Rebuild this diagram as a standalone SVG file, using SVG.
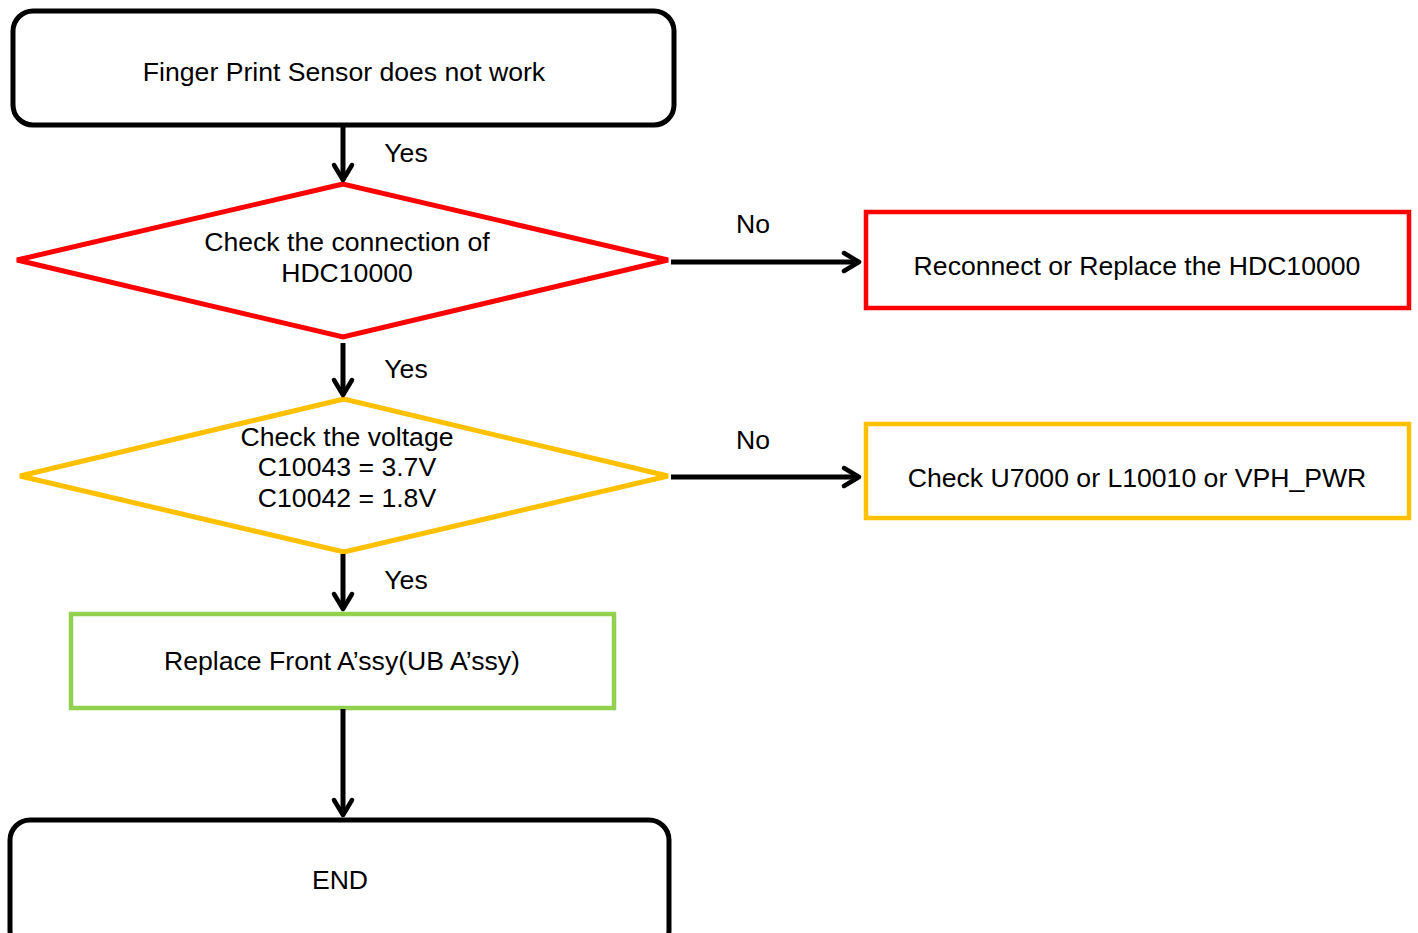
<svg xmlns="http://www.w3.org/2000/svg" width="1418" height="933" viewBox="0 0 1418 933">
<style>
text{font-family:"Liberation Sans",Arial,sans-serif;font-size:25px;fill:#000;text-anchor:middle}
.term{fill:#fff;stroke:#000;stroke-width:5}
.line{stroke:#000;stroke-width:5;fill:none}
.head{stroke:#000;stroke-width:4.5;fill:none;stroke-linecap:round;stroke-linejoin:round}
</style>
<rect width="1418" height="933" fill="#fff"/>
<g id="start"><rect class="term" x="13" y="11" width="661" height="114" rx="20"/><text x="344" y="81" transform="translate(344 0) scale(1.065 1) translate(-344 0)">Finger Print Sensor does not work</text></g>
<g id="d1"><polygon points="343,184 17,260 343,337 668,260" fill="#fff" stroke="#FF0000" stroke-width="5"/><text transform="translate(347 0) scale(1.065 1) translate(-347 0)"><tspan x="347" y="251">Check the connection of</tspan><tspan x="347" y="282">HDC10000</tspan></text></g>
<g id="r1"><rect x="866" y="212" width="543" height="96" fill="#fff" stroke="#FF0000" stroke-width="4.5"/><text x="1137" y="275" transform="translate(1137 0) scale(1.065 1) translate(-1137 0)">Reconnect or Replace the HDC10000</text></g>
<g id="d2"><polygon points="344,399 20,476 344,552 668,476" fill="#fff" stroke="#FFC000" stroke-width="5"/><text transform="translate(347 0) scale(1.065 1) translate(-347 0)"><tspan x="347" y="446">Check the voltage</tspan><tspan x="347" y="476">C10043 = 3.7V</tspan><tspan x="347" y="507">C10042 = 1.8V</tspan></text></g>
<g id="r2"><rect x="866" y="424" width="543" height="94" fill="#fff" stroke="#FFC000" stroke-width="4.5"/><text x="1137" y="487" transform="translate(1137 0) scale(1.065 1) translate(-1137 0)">Check U7000 or L10010 or VPH_PWR</text></g>
<g id="r3"><rect x="71" y="614" width="543" height="94" fill="#fff" stroke="#92D050" stroke-width="4.5"/><text x="342" y="670" transform="translate(342 0) scale(1.065 1) translate(-342 0)">Replace Front A’ssy(UB A’ssy)</text></g>
<g id="end"><rect class="term" x="10" y="820" width="659" height="130" rx="20"/><text x="340" y="889" transform="translate(340 0) scale(1.065 1) translate(-340 0)">END</text></g>
<g id="connectors">
<line class="line" x1="343" y1="126" x2="343" y2="180"/><path class="head" d="M334,165 L343,180 L352,165"/>
<line class="line" x1="343" y1="343" x2="343" y2="395"/><path class="head" d="M334,380 L343,395 L352,380"/>
<line class="line" x1="343" y1="554" x2="343" y2="609"/><path class="head" d="M334,594 L343,609 L352,594"/>
<line class="line" x1="343" y1="709" x2="343" y2="815"/><path class="head" d="M334,800 L343,815 L352,800"/>
<line class="line" x1="671" y1="262" x2="859" y2="262"/><path class="head" d="M844,253 L859,262 L844,271"/>
<line class="line" x1="671" y1="477" x2="859" y2="477"/><path class="head" d="M844,468 L859,477 L844,486"/>
<g transform="translate(406 0) scale(1.065 1) translate(-406 0)"><text x="406" y="162">Yes</text><text x="406" y="378">Yes</text><text x="406" y="589">Yes</text></g>
<g transform="translate(753 0) scale(1.065 1) translate(-753 0)"><text x="753" y="233">No</text><text x="753" y="449">No</text></g>
</g>
</svg>
